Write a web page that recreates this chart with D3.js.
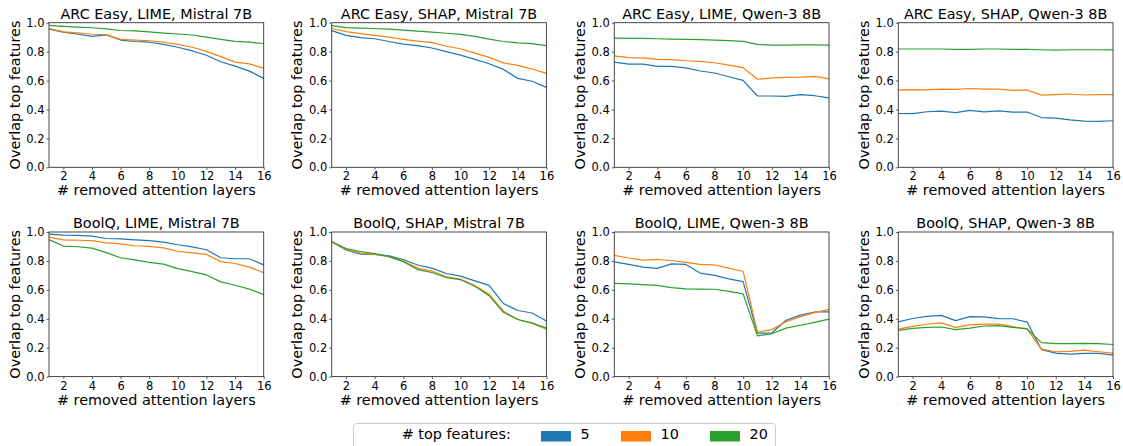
<!DOCTYPE html>
<html>
<head>
<meta charset="utf-8">
<script src="https://cdn.jsdelivr.net/npm/d3@7"></script>
<style>
  html, body { margin: 0; padding: 0; background: #fff; }
  svg { display: block; }
  text { font-family: "DejaVu Sans", sans-serif; fill: #000; }
</style>
</head>
<body>
<svg id="chart" width="1123" height="446"></svg>
<script>
// ---------- data ----------
const layers = [1, 2, 3, 4, 5, 6, 7, 8, 9, 10, 11, 12, 13, 14, 15, 16];
const xTicks = [2, 4, 6, 8, 10, 12, 14, 16];
const yTicks = [0.0, 0.2, 0.4, 0.6, 0.8, 1.0];
const topFeatures = ["5", "10", "20"];
const seriesColors = ["#1f77b4", "#ff7f0e", "#2ca02c"];
const panelTitles = [
  "ARC Easy, LIME, Mistral 7B", "ARC Easy, SHAP, Mistral 7B", "ARC Easy, LIME, Qwen-3 8B", "ARC Easy, SHAP, Qwen-3 8B",
  "BoolQ, LIME, Mistral 7B", "BoolQ, SHAP, Mistral 7B", "BoolQ, LIME, Qwen-3 8B", "BoolQ, SHAP, Qwen-3 8B"
];

// ARC Easy, LIME, Mistral 7B
const arcLimeMistral5  = [0.955, 0.935, 0.920, 0.905, 0.915, 0.880, 0.870, 0.865, 0.850, 0.830, 0.805, 0.775, 0.730, 0.700, 0.665, 0.615];
const arcLimeMistral10 = [0.960, 0.937, 0.930, 0.920, 0.917, 0.885, 0.880, 0.875, 0.865, 0.850, 0.830, 0.802, 0.765, 0.727, 0.715, 0.686];
const arcLimeMistral20 = [0.982, 0.975, 0.970, 0.965, 0.957, 0.946, 0.943, 0.936, 0.928, 0.922, 0.915, 0.900, 0.885, 0.871, 0.865, 0.856];
// ARC Easy, SHAP, Mistral 7B
const arcShapMistral5  = [0.945, 0.912, 0.897, 0.889, 0.870, 0.852, 0.842, 0.825, 0.800, 0.776, 0.746, 0.716, 0.677, 0.615, 0.595, 0.553];
const arcShapMistral10 = [0.960, 0.938, 0.925, 0.913, 0.900, 0.885, 0.872, 0.862, 0.837, 0.820, 0.790, 0.760, 0.722, 0.705, 0.680, 0.650];
const arcShapMistral20 = [0.980, 0.966, 0.963, 0.960, 0.955, 0.949, 0.942, 0.935, 0.927, 0.919, 0.905, 0.887, 0.870, 0.860, 0.855, 0.841];
// ARC Easy, LIME, Qwen-3 8B
const arcLimeQwen5  = [0.727, 0.714, 0.714, 0.698, 0.698, 0.687, 0.666, 0.652, 0.626, 0.601, 0.493, 0.493, 0.490, 0.503, 0.495, 0.480];
const arcLimeQwen10 = [0.770, 0.758, 0.757, 0.747, 0.744, 0.737, 0.733, 0.723, 0.707, 0.689, 0.609, 0.618, 0.622, 0.624, 0.629, 0.611];
const arcLimeQwen20 = [0.894, 0.891, 0.891, 0.889, 0.886, 0.884, 0.883, 0.880, 0.876, 0.871, 0.850, 0.845, 0.845, 0.846, 0.846, 0.845];
// ARC Easy, SHAP, Qwen-3 8B
const arcShapQwen5  = [0.372, 0.371, 0.384, 0.388, 0.378, 0.394, 0.383, 0.390, 0.382, 0.382, 0.344, 0.340, 0.328, 0.320, 0.318, 0.322];
const arcShapQwen10 = [0.535, 0.537, 0.536, 0.540, 0.539, 0.545, 0.541, 0.541, 0.532, 0.535, 0.499, 0.502, 0.507, 0.500, 0.503, 0.503];
const arcShapQwen20 = [0.818, 0.818, 0.818, 0.818, 0.816, 0.816, 0.818, 0.818, 0.815, 0.815, 0.813, 0.810, 0.813, 0.813, 0.813, 0.812];
// BoolQ, LIME, Mistral 7B
const boolqLimeMistral5  = [0.985, 0.978, 0.977, 0.972, 0.955, 0.952, 0.945, 0.940, 0.930, 0.912, 0.897, 0.877, 0.822, 0.815, 0.815, 0.773];
const boolqLimeMistral10 = [0.965, 0.946, 0.943, 0.940, 0.925, 0.918, 0.905, 0.900, 0.890, 0.867, 0.856, 0.845, 0.795, 0.782, 0.757, 0.718];
const boolqLimeMistral20 = [0.947, 0.903, 0.898, 0.888, 0.857, 0.822, 0.807, 0.790, 0.778, 0.747, 0.726, 0.703, 0.655, 0.632, 0.605, 0.567];
// BoolQ, SHAP, Mistral 7B
const boolqShapMistral5  = [0.933, 0.876, 0.846, 0.845, 0.835, 0.810, 0.772, 0.750, 0.713, 0.695, 0.662, 0.631, 0.505, 0.457, 0.440, 0.385];
const boolqShapMistral10 = [0.933, 0.880, 0.855, 0.845, 0.830, 0.800, 0.750, 0.730, 0.690, 0.675, 0.630, 0.570, 0.452, 0.395, 0.370, 0.327];
const boolqShapMistral20 = [0.933, 0.885, 0.865, 0.850, 0.830, 0.795, 0.740, 0.720, 0.685, 0.670, 0.625, 0.560, 0.445, 0.395, 0.370, 0.335];
// BoolQ, LIME, Qwen-3 8B
const boolqLimeQwen5  = [0.793, 0.776, 0.757, 0.748, 0.780, 0.776, 0.716, 0.700, 0.676, 0.657, 0.300, 0.302, 0.390, 0.425, 0.447, 0.448];
const boolqLimeQwen10 = [0.838, 0.820, 0.806, 0.810, 0.803, 0.790, 0.776, 0.772, 0.750, 0.727, 0.307, 0.325, 0.380, 0.415, 0.442, 0.465];
const boolqLimeQwen20 = [0.645, 0.641, 0.636, 0.631, 0.615, 0.607, 0.605, 0.604, 0.590, 0.572, 0.282, 0.296, 0.335, 0.355, 0.375, 0.397];
// BoolQ, SHAP, Qwen-3 8B
const boolqShapQwen5  = [0.378, 0.402, 0.416, 0.423, 0.387, 0.415, 0.413, 0.401, 0.400, 0.377, 0.186, 0.162, 0.155, 0.160, 0.160, 0.148];
const boolqShapQwen10 = [0.328, 0.347, 0.362, 0.372, 0.340, 0.358, 0.363, 0.363, 0.345, 0.330, 0.190, 0.172, 0.175, 0.183, 0.172, 0.162];
const boolqShapQwen20 = [0.320, 0.333, 0.340, 0.343, 0.325, 0.335, 0.350, 0.352, 0.340, 0.330, 0.235, 0.228, 0.228, 0.230, 0.228, 0.222];

const panelSeries = [
  [arcLimeMistral5, arcLimeMistral10, arcLimeMistral20],
  [arcShapMistral5, arcShapMistral10, arcShapMistral20],
  [arcLimeQwen5, arcLimeQwen10, arcLimeQwen20],
  [arcShapQwen5, arcShapQwen10, arcShapQwen20],
  [boolqLimeMistral5, boolqLimeMistral10, boolqLimeMistral20],
  [boolqShapMistral5, boolqShapMistral10, boolqShapMistral20],
  [boolqLimeQwen5, boolqLimeQwen10, boolqLimeQwen20],
  [boolqShapQwen5, boolqShapQwen10, boolqShapQwen20]
];

// ---------- layout ----------
const svg = d3.select("#chart");
const plotLefts = [49, 331.7, 614.3, 898.3];
const plotTops = [22.7, 232];
const plotW = 214.7, plotH = 144.6;
const labelFont = "14.4px", tickFont = "11.5px";

panelTitles.forEach((title, i) => {
  const col = i % 4, row = Math.floor(i / 4);
  const g = svg.append("g").attr("transform", `translate(${plotLefts[col]},${plotTops[row]})`);
  const x = d3.scaleLinear().domain([1, 16]).range([0, plotW]);
  const y = d3.scaleLinear().domain([0, 1]).range([plotH, 0]);

  // lines
  const line = d3.line().x((d, k) => x(layers[k])).y(d => y(d));
  panelSeries[i].forEach((vals, s) => {
    g.append("path").datum(vals)
      .attr("d", line)
      .attr("fill", "none")
      .attr("stroke", seriesColors[s])
      .attr("stroke-width", 1.2)
      .attr("stroke-linejoin", "round");
  });

  // axes
  const xAxis = d3.axisBottom(x).tickValues(xTicks).tickFormat(d3.format("d")).tickSize(2.5).tickPadding(2.5);
  const yAxis = d3.axisLeft(y).tickValues(yTicks).tickFormat(d3.format(".1f")).tickSize(2.5).tickPadding(2);
  const gx = g.append("g").attr("transform", `translate(0,${plotH})`).call(xAxis);
  const gy = g.append("g").call(yAxis);
  [gx, gy].forEach(a => {
    a.select(".domain").remove();
    a.selectAll("line").attr("stroke", "#333").attr("stroke-width", 0.8);
    a.selectAll("text").style("font-family", "DejaVu Sans").style("font-size", tickFont).attr("fill", "#000");
  });

  // frame
  g.append("rect").attr("x", 0).attr("y", 0).attr("width", plotW).attr("height", plotH)
    .attr("fill", "none").attr("stroke", "#333").attr("stroke-width", 0.9);

  // title
  g.append("text").attr("x", plotW / 2).attr("y", -4)
    .attr("text-anchor", "middle").style("font-size", labelFont).text(title);
  // x label
  g.append("text").attr("x", plotW / 2).attr("y", plotH + 28)
    .attr("text-anchor", "middle").style("font-size", labelFont).text("# removed attention layers");
  // y label
  g.append("text").attr("transform", `translate(-29.5,${plotH / 2}) rotate(-90)`)
    .attr("text-anchor", "middle").style("font-size", labelFont).text("Overlap top features");
});

// ---------- legend ----------
const lg = svg.append("g");
lg.append("rect").attr("x", 353.5).attr("y", 423.5).attr("width", 422).attr("height", 40)
  .attr("rx", 3).attr("fill", "#fff").attr("stroke", "#cccccc").attr("stroke-width", 1);
lg.append("text").attr("x", 401.7).attr("y", 439).style("font-size", labelFont).text("# top features:");
const patchX = [541, 621, 710];
topFeatures.forEach((lab, s) => {
  lg.append("rect").attr("x", patchX[s]).attr("y", 431).attr("width", 30).attr("height", 10.5)
    .attr("fill", seriesColors[s]);
  lg.append("text").attr("x", patchX[s] + 39.5).attr("y", 439).style("font-size", labelFont).text(lab);
});
</script>
</body>
</html>
